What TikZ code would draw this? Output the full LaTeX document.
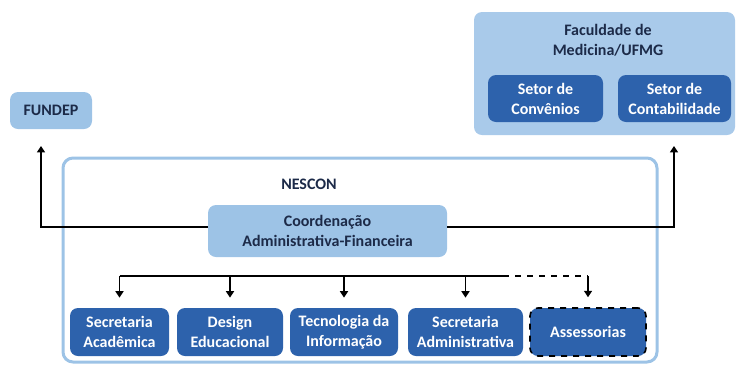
\documentclass[tikz,border=0pt]{standalone}
\usepackage{fontspec}
\setmainfont{Carlito}
\usepackage{xcolor}
\usetikzlibrary{arrows.meta}
\definecolor{paleBlue}{HTML}{9DC3E6}
\definecolor{faintBlue}{HTML}{A9CAEA}
\definecolor{deepBlue}{HTML}{2D62AC}
\definecolor{navyInk}{HTML}{1C2A48}
\tikzset{
  link/.style={line width=.75pt,-{Triangle[length=3.2pt,width=4pt]}},
  oBox/.style={rounded corners=4pt,align=center,inner sep=1pt,
        font=\fontsize{8}{10}\selectfont\bfseries},
  oLight/.style={oBox,fill=paleBlue,text=navyInk},
  oGroup/.style={oBox,fill=faintBlue,text=navyInk},
  oDark/.style={oBox,fill=deepBlue,text=white},
  oMaybe/.style={oDark,draw=black,dashed,line width=.8pt},
  oFrame/.style={rounded corners=5pt,draw=paleBlue,line width=1.5pt},
  oTitle/.style={font=\fontsize{8}{10}\selectfont\bfseries,text=navyInk,align=center},
}

\begin{document}
\begin{tikzpicture}[x=.5pt,y=-.5pt]
\useasboundingbox (0,0) rectangle (737,365);
\node[oLight,minimum width=41pt,minimum height=18.5pt] (fundep) at (51,110.5) {FUNDEP};
\node[oGroup,minimum width=130.5pt,minimum height=61.5pt] (fac) at (604.5,73.5) {};
\node[oTitle] (facT) at (608,40) {Faculdade de\\Medicina/UFMG};
\node[oDark,minimum width=57.5pt,minimum height=23.5pt] (conv) at (545.5,98.5) {Setor de\\Convênios};
\node[oDark,minimum width=56.5pt,minimum height=23.5pt] (cont) at (674.5,98.5) {Setor de\\Contabilidade};
\node[oFrame,minimum width=297pt,minimum height=102pt] (nescon) at (360,260) {};
\node[oTitle] (nesT) at (309,184) {NESCON};
\node[oLight,minimum width=119.5pt,minimum height=26pt] (coord) at (327.5,231) {Coordenação\\Administrativa-Financeira};
\node[oDark,minimum width=49.5pt,minimum height=24pt] (sa) at (119.5,332) {Secretaria\\Acadêmica};
\node[oDark,minimum width=53pt,minimum height=24pt] (de) at (230,332) {Design\\Educacional};
\node[oDark,minimum width=54pt,minimum height=24pt] (ti) at (344,332) {Tecnologia da\\Informação};
\node[oDark,minimum width=57.5pt,minimum height=24pt] (sad) at (465.5,332) {Secretaria\\Administrativa};
\node[oMaybe,minimum width=58pt,minimum height=24pt] (ass) at (588,332) {Assessorias};
\coordinate (fTip) at (41,146);
\coordinate (uTip) at (674,146);
\coordinate (bar) at (0,276);
\coordinate (dash) at (503,276);
\draw[link] ([yshift=2pt]coord.west) -| (fTip);
\draw[link] ([yshift=2pt]coord.east) -| (uTip);
\draw[line width=.75pt] (sa.north |- bar) -- (dash);
\draw[line width=.75pt,dashed] (dash) -- (ass.north |- bar);
\foreach \b in {sa,de,ti,sad,ass}
  \draw[link,shorten >=5pt] (\b.north |- bar) -- (\b.north);
\end{tikzpicture}
\end{document}
